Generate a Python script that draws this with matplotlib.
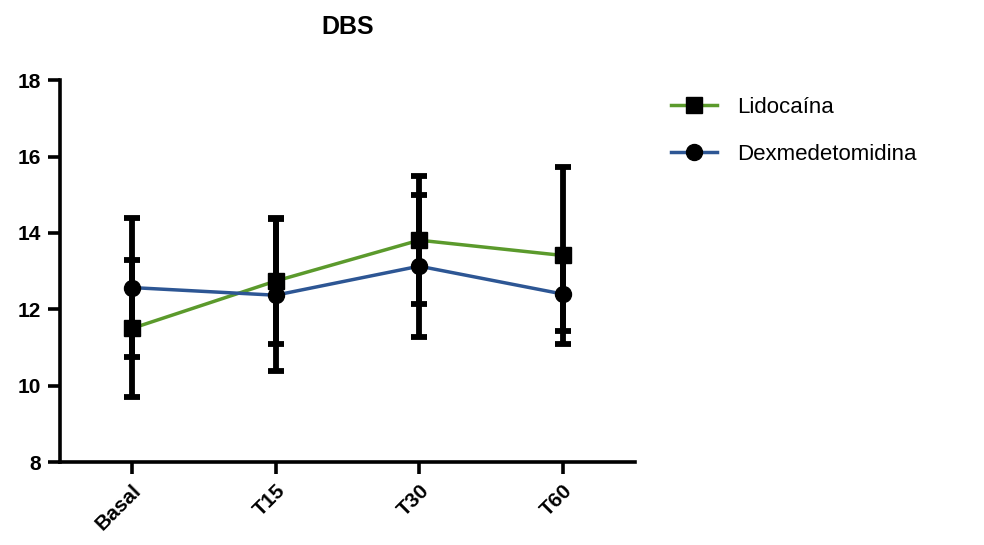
import matplotlib
matplotlib.use("Agg")
import matplotlib.pyplot as plt
import numpy as np

plt.rcParams['font.family'] = ['Liberation Sans', 'DejaVu Sans']

categories = ["Basal", "T15", "T30", "T60"]
lido_mean = [11.50, 12.74, 13.81, 13.41]
lido_sd = [1.80, 1.66, 1.67, 2.31]
dex_mean = [12.57, 12.37, 13.13, 12.40]
dex_sd = [1.83, 1.99, 1.86, 0.97]
yticks = [8, 10, 12, 14, 16, 18]

green = '#5B9A2C'
blue = '#2D5694'

fig = plt.figure(figsize=(9.84, 5.45), dpi=100)
ax = fig.add_axes([0.061, 0.152, 0.584, 0.701])
x = np.arange(len(categories))

series = [(lido_mean, lido_sd, green, 's', 'Lidocaína', 11),
          (dex_mean, dex_sd, blue, 'o', 'Dexmedetomidina', 11.5)]
for mean, sd, col, mk, lab, ms in series:
    ax.errorbar(x, mean, yerr=sd, fmt='none', ecolor='black', elinewidth=4.2,
                capsize=6, capthick=4.2, zorder=2)
for mean, sd, col, mk, lab, ms in series:
    ax.plot(x, mean, color=col, lw=2.5, marker=mk, markersize=ms,
            markerfacecolor='black', markeredgecolor='black', label=lab, zorder=3)

ax.set_xlim(-0.5, 3.5)
ax.set_ylim(8, 18)
ax.set_yticks(yticks)
ax.set_xticks(x)
ax.set_xticklabels(categories, rotation=45, ha='right', rotation_mode='anchor',
                   fontsize=15, fontweight='bold')
for t in ax.get_yticklabels():
    t.set_fontsize(15)
    t.set_fontweight('bold')
for s in ['top', 'right']:
    ax.spines[s].set_visible(False)
for s in ['left', 'bottom']:
    ax.spines[s].set_linewidth(2.6)
ax.tick_params(axis='both', direction='out', length=8.5, width=2.6, pad=5)

ax.set_title('DBS', fontsize=18, fontweight='bold', pad=33)

leg = ax.legend(loc='upper left', bbox_to_anchor=(1.064, 0.957), frameon=False,
                fontsize=16, handlelength=2.05, handletextpad=0.9, labelspacing=1.18,
                borderpad=0, borderaxespad=0)

fig.savefig('out.png', dpi=100)
